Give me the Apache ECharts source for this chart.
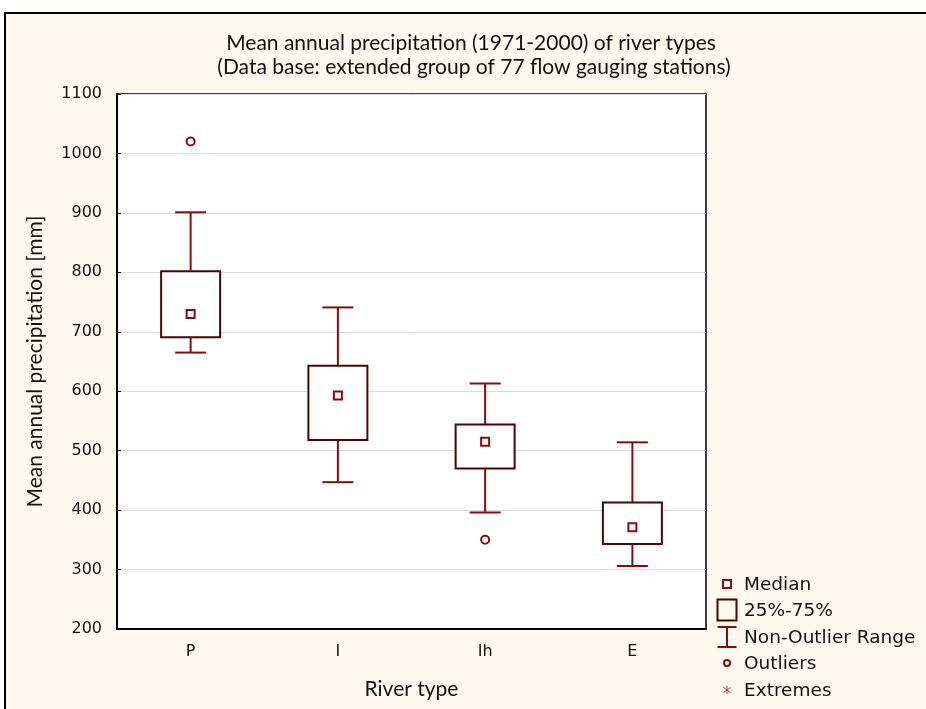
<!DOCTYPE html>
<html>
<head>
<meta charset="utf-8">
<script src="https://cdn.jsdelivr.net/npm/echarts@6/dist/echarts.min.js"></script>
<style>
  html, body { margin: 0; padding: 0; background: #ffffff; }
  #frame { position: absolute; left: 4px; top: 12px; width: 940px; height: 720px;
           border-left: 2px solid #000; border-top: 2px solid #000; background: #fdf9ee; }
  #chart { position: absolute; left: 0; top: 0; width: 926px; height: 709px; }
</style>
</head>
<body>
<div id="frame"></div>
<div id="chart"></div>
<script>
// ---- data ----
const categories = ['P', 'I', 'Ih', 'E'];
const whiskerLow  = [665, 447, 396, 306];
const quartile1   = [691, 518, 470, 343];
const medians     = [730, 593, 515, 371];
const quartile3   = [802, 643, 544, 413];
const whiskerHigh = [901, 741, 613, 514];
const outliers = [['P', 1020], ['Ih', 350]];
const yTicks = { min: 200, max: 1100, step: 100 };

const titleLine1 = 'Mean annual precipitation (1971-2000) of river types';
const titleLine2 = '(Data base: extended group of 77 flow gauging stations)';
const legendNames = ['Median', '25%-75%', 'Non-Outlier Range', 'Outliers', 'Extremes'];

const WHISK = '#870d0d';
const BOXC = '#4a0505';
const FONT = "'DejaVu Sans', Verdana, sans-serif";
const TFONT = "Lato, 'Open Sans', sans-serif";

const boxData = categories.map((c, i) => [i, whiskerLow[i], quartile1[i], medians[i], quartile3[i], whiskerHigh[i]]);

function renderBox(params, api) {
  const idx = api.value(0);
  const pMin = api.coord([idx, api.value(1)]);
  const pQ1 = api.coord([idx, api.value(2)]);
  const pQ3 = api.coord([idx, api.value(4)]);
  const pMax = api.coord([idx, api.value(5)]);
  const x = pMin[0];
  const boxW = 59, capW = 31;
  const ls = { stroke: WHISK, lineWidth: 2 };
  return {
    type: 'group',
    children: [
      { type: 'line', shape: { x1: x, y1: pMax[1], x2: x, y2: pQ3[1] }, style: ls },
      { type: 'line', shape: { x1: x, y1: pQ1[1], x2: x, y2: pMin[1] }, style: ls },
      { type: 'line', shape: { x1: x - capW / 2, y1: pMax[1], x2: x + capW / 2, y2: pMax[1] }, style: ls },
      { type: 'line', shape: { x1: x - capW / 2, y1: pMin[1], x2: x + capW / 2, y2: pMin[1] }, style: ls },
      { type: 'rect', shape: { x: x - boxW / 2, y: pQ3[1], width: boxW, height: pQ1[1] - pQ3[1] },
        style: { fill: '#ffffff', stroke: BOXC, lineWidth: 2 } }
    ]
  };
}

// legend drawn as graphic elements
const LX = 727, TX = 744;
const legendY = [584, 610, 637, 663, 690];
const legendGraphics = [
  { type: 'rect', shape: { x: LX - 4, y: legendY[0] - 4, width: 8, height: 8 },
    style: { fill: '#fff', stroke: WHISK, lineWidth: 2 } },
  { type: 'rect', shape: { x: LX - 9.5, y: legendY[1] - 10.5, width: 19, height: 21 },
    style: { fill: 'none', stroke: BOXC, lineWidth: 2 } },
  { type: 'line', shape: { x1: LX, y1: legendY[2] - 10, x2: LX, y2: legendY[2] + 10 }, style: { stroke: WHISK, lineWidth: 2 } },
  { type: 'line', shape: { x1: LX - 9.5, y1: legendY[2] - 10, x2: LX + 9.5, y2: legendY[2] - 10 }, style: { stroke: WHISK, lineWidth: 2 } },
  { type: 'line', shape: { x1: LX - 9.5, y1: legendY[2] + 10, x2: LX + 9.5, y2: legendY[2] + 10 }, style: { stroke: WHISK, lineWidth: 2 } },
  { type: 'circle', shape: { cx: LX, cy: legendY[3], r: 3 }, style: { fill: '#fff', stroke: WHISK, lineWidth: 2 } },
  { type: 'line', shape: { x1: LX, y1: legendY[4] - 4, x2: LX, y2: legendY[4] + 4 }, style: { stroke: '#b24040', lineWidth: 1 } },
  { type: 'line', shape: { x1: LX - 3.5, y1: legendY[4] - 2.5, x2: LX + 3.5, y2: legendY[4] + 2.5 }, style: { stroke: '#b24040', lineWidth: 1 } },
  { type: 'line', shape: { x1: LX - 3.5, y1: legendY[4] + 2.5, x2: LX + 3.5, y2: legendY[4] - 2.5 }, style: { stroke: '#b24040', lineWidth: 1 } }
].concat(legendNames.map((n, i) => ({
  type: 'text', style: { text: n, x: TX, y: legendY[i] + 1, textVerticalAlign: 'middle', fill: '#111', font: "18.5px " + FONT }
})));

const chart = echarts.init(document.getElementById('chart'), null, { renderer: 'canvas' });
chart.setOption({
  backgroundColor: 'transparent',
  animation: false,
  grid: { left: 117, top: 94, width: 589, height: 535, show: true, backgroundColor: '#ffffff', borderColor: '#000', borderWidth: 1.5 },
  graphic: [
    { type: 'text', style: { text: titleLine1, x: 471, y: 43, textAlign: 'center', textVerticalAlign: 'middle', fill: '#111', font: "21px " + TFONT } },
    { type: 'text', style: { text: titleLine2, x: 474, y: 67, textAlign: 'center', textVerticalAlign: 'middle', fill: '#111', font: "21px " + TFONT } }
  ].concat(legendGraphics),
  xAxis: {
    type: 'category', data: categories,
    axisLine: { lineStyle: { color: '#000', width: 2 } },
    axisTick: { alignWithLabel: true, inside: true, length: 5, lineStyle: { color: '#000' } },
    axisLabel: { color: '#111', fontSize: 16, fontFamily: FONT, margin: 15 },
    name: 'River type', nameLocation: 'middle', nameGap: 50,
    nameTextStyle: { color: '#111', fontSize: 21, fontFamily: TFONT }
  },
  yAxis: {
    type: 'value', min: yTicks.min, max: yTicks.max, interval: yTicks.step,
    axisLine: { show: true, lineStyle: { color: '#000', width: 2 } },
    axisTick: { show: true, inside: true, length: 4, lineStyle: { color: '#000' } },
    axisLabel: { color: '#111', fontSize: 16, fontFamily: FONT, margin: 15, formatter: v => String(v) },
    splitLine: { lineStyle: { color: '#dcdcdc', width: 1 } },
    name: 'Mean annual precipitation [mm]', nameLocation: 'middle', nameGap: 71,
    nameTextStyle: { color: '#111', fontSize: 21, fontFamily: TFONT }
  },
  series: [
    { type: 'custom', name: '25%-75%', renderItem: renderBox, data: boxData, encode: { x: 0, y: [1, 2, 3, 4, 5] }, z: 3 },
    { type: 'scatter', name: 'Median', data: categories.map((c, i) => [c, medians[i]]), symbol: 'rect', symbolSize: 8,
      itemStyle: { color: '#fff', borderColor: WHISK, borderWidth: 2, opacity: 1 }, z: 5 },
    { type: 'scatter', name: 'Outliers', data: outliers, symbol: 'circle', symbolSize: 8,
      itemStyle: { color: '#fff', borderColor: WHISK, borderWidth: 2, opacity: 1 }, z: 5 }
  ]
});
</script>
</body>
</html>
